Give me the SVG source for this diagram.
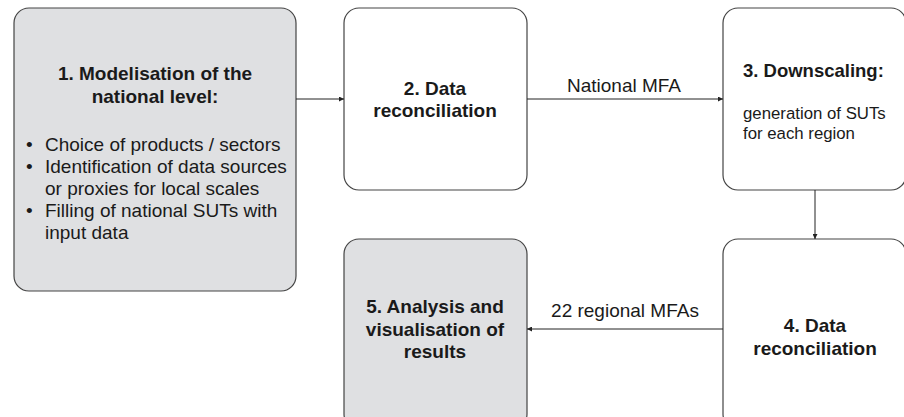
<svg xmlns="http://www.w3.org/2000/svg" width="904" height="417" viewBox="0 0 904 417">
<defs>
<marker id="ah" viewBox="0 0 10 10" refX="10" refY="5" markerWidth="5" markerHeight="5" orient="auto" markerUnits="userSpaceOnUse">
<path d="M0,0 L10,5 L0,10 z" fill="#222"/>
</marker>
<style>
.box{stroke:#444;stroke-width:1.2}
.gray{fill:#dfe0e2}
.white{fill:#ffffff}
.t{font-family:"Liberation Sans",Arial,sans-serif;fill:#1a1a1a}
.b{font-weight:bold;font-size:19px}
.n{font-size:19px}
.s{font-size:16.8px}
.c{text-anchor:middle}
.conn{stroke:#222;stroke-width:1;fill:none;marker-end:url(#ah)}
</style>
</defs>
<rect width="904" height="417" fill="#fff"/>
<g id="node1">
<rect class="box gray" x="14" y="8" width="282" height="283" rx="15"/>
<text class="t b c" x="155" y="80">1. Modelisation of the</text>
<text class="t b c" x="155" y="103">national level:</text>
<text class="t n" x="26" y="151">•</text><text class="t n" x="45" y="151">Choice of products / sectors</text>
<text class="t n" x="26" y="173">•</text><text class="t n" x="45" y="173">Identification of data sources</text>
<text class="t n" x="45" y="195">or proxies for local scales</text>
<text class="t n" x="26" y="217">•</text><text class="t n" x="45" y="217">Filling of national SUTs with</text>
<text class="t n" x="45" y="239">input data</text>
</g>
<g id="node2">
<rect class="box white" x="344" y="8" width="183" height="182" rx="15"/>
<text class="t b c" x="435" y="95">2. Data</text>
<text class="t b c" x="435" y="117">reconciliation</text>
</g>
<g id="node3">
<rect class="box white" x="723" y="8" width="183" height="182" rx="15"/>
<text class="t b" x="743" y="77" style="font-size:18.5px">3. Downscaling:</text>
<text class="t s" x="743" y="119">generation of SUTs</text>
<text class="t s" x="743" y="139">for each region</text>
</g>
<g id="node4">
<rect class="box white" x="723" y="239" width="183" height="190" rx="15"/>
<text class="t b c" x="815" y="332">4. Data</text>
<text class="t b c" x="815" y="355">reconciliation</text>
</g>
<g id="node5">
<rect class="box gray" x="344" y="239" width="183" height="190" rx="15"/>
<text class="t b c" x="435" y="313">5. Analysis and</text>
<text class="t b c" x="435" y="336">visualisation of</text>
<text class="t b c" x="435" y="358">results</text>
</g>
<g id="connectors">
<line class="conn" x1="296" y1="99" x2="344" y2="99"/>
<line class="conn" x1="527" y1="99" x2="723" y2="99"/>
<line class="conn" x1="815" y1="190" x2="815" y2="239"/>
<line class="conn" x1="723" y1="329" x2="527" y2="329"/>
<text class="t n c" x="624" y="92">National MFA</text>
<text class="t n c" x="625" y="317">22 regional MFAs</text>
</g>
</svg>
